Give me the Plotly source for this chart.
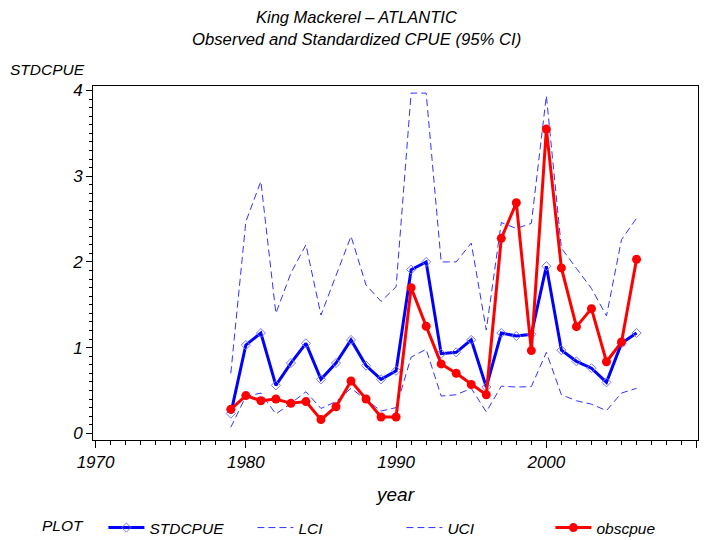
import plotly.graph_objects as go

# King mackerel, Atlantic: standardized CPUE with 95% CI and observed CPUE
years = list(range(1979, 2007))

stdcpue = [0.23, 1.03, 1.17, 0.56, 0.82, 1.05, 0.63, 0.82, 1.09, 0.79, 0.63, 0.73,
           1.91, 2.00, 0.93, 0.945, 1.09, 0.54, 1.17, 1.135, 1.155, 1.95, 0.97,
           0.84, 0.76, 0.595, 1.05, 1.17]

lci = [0.07, 0.43, 0.47, 0.225, 0.35, 0.485, 0.29, 0.37, 0.525, 0.39, 0.26, 0.30,
       0.89, 0.98, 0.435, 0.45, 0.525, 0.25, 0.55, 0.54, 0.545, 0.945, 0.45,
       0.38, 0.34, 0.265, 0.47, 0.525]

uci = [0.70, 2.47, 2.94, 1.40, 1.87, 2.20, 1.38, 1.83, 2.30, 1.73, 1.54, 1.71,
       3.97, 3.97, 2.00, 2.00, 2.22, 1.205, 2.46, 2.39, 2.45, 3.94, 2.16,
       1.925, 1.69, 1.37, 2.26, 2.51]

obscpue = [0.28, 0.44, 0.38, 0.40, 0.35, 0.37, 0.16, 0.31, 0.61, 0.40, 0.19, 0.19,
           1.70, 1.25, 0.81, 0.70, 0.57, 0.45, 2.275, 2.69, 0.965, 3.55, 1.93,
           1.245, 1.455, 0.835, 1.065, 2.03]

x_ticks = [1970, 1980, 1990, 2000, 2010]
y_ticks = [0, 1, 2, 3, 4]

FONT = "Liberation Sans Narrow, Liberation Sans, Arial, sans-serif"

fig = go.Figure()

fig.add_trace(go.Scatter(
    x=years, y=stdcpue, name="<i>STDCPUE</i>", mode="lines+markers",
    line=dict(color="#0000ff", width=3),
    marker=dict(symbol="diamond-open", size=7, color="#7777ff",
                line=dict(width=1, color="#7777ff")),
))
fig.add_trace(go.Scatter(
    x=years, y=lci, name="<i>LCI</i>", mode="lines",
    line=dict(color="#3333ff", width=1, dash="7px,4px"),
))
fig.add_trace(go.Scatter(
    x=years, y=uci, name="<i>UCI</i>", mode="lines",
    line=dict(color="#3333ff", width=1, dash="7px,4px"),
))
fig.add_trace(go.Scatter(
    x=years, y=obscpue, name="<i>obscpue</i>", mode="lines+markers",
    line=dict(color="#ff0000", width=3),
    marker=dict(symbol="circle", size=9, color="#ff0000"),
))

plot_h = 540 - 86 - 100

fig.update_layout(
    width=713, height=540,
    margin=dict(l=93, r=15, t=86, b=100, autoexpand=False),
    paper_bgcolor="white", plot_bgcolor="white",
    font=dict(family=FONT, size=15.5, color="black"),
    showlegend=True,
    legend=dict(
        orientation="h", xref="container", yref="container",
        x=40 / 713, xanchor="left", y=1 - 511 / 540, yanchor="top",
        title=dict(text="<i>PLOT</i>   ", side="left",
                   font=dict(family=FONT, size=15.5)),
        entrywidth=98, entrywidthmode="pixels",
        font=dict(family=FONT, size=15.5),
        itemwidth=36,
    ),
    xaxis=dict(
        range=[1969.83, 2010.09], tickvals=x_ticks,
        ticktext=[f"<i>{v}</i>" for v in x_ticks],
        ticks="outside", ticklen=7, tickcolor="black", tickwidth=1,
        minor=dict(dtick=1, ticks="outside", ticklen=4, tickcolor="black"),
        showline=True, linecolor="black", linewidth=1, mirror=True,
        showgrid=False, zeroline=False,
        title=dict(text="<i>year</i>", standoff=16),
        tickfont=dict(family=FONT, size=17),
    ),
    yaxis=dict(
        range=[-0.078, 4.053], tickvals=y_ticks,
        ticktext=[f"<i>{v}</i>" for v in y_ticks],
        ticks="outside", ticklen=6, tickcolor="black", tickwidth=1,
        minor=dict(dtick=0.1, ticks="outside", ticklen=3, tickcolor="black"),
        showline=True, linecolor="black", linewidth=1, mirror=True,
        showgrid=False, zeroline=False,
        tickfont=dict(family=FONT, size=17),
    ),
    annotations=[
        dict(text="<i>King Mackerel \u2013 ATLANTIC</i>", xref="paper", yref="paper",
             x=0.4355, y=1 + (86 - 17) / plot_h, xanchor="center", yanchor="middle",
             showarrow=False, font=dict(family=FONT, size=16.5)),
        dict(text="<i>Observed and Standardized CPUE (95% CI)</i>", xref="paper", yref="paper",
             x=0.4355, y=1 + (86 - 40) / plot_h, xanchor="center", yanchor="middle",
             showarrow=False, font=dict(family=FONT, size=16.7)),
        dict(text="<i>STDCPUE</i>", xref="paper", yref="paper",
             x=-0.14, y=1 + (86 - 70) / plot_h, xanchor="left", yanchor="middle",
             showarrow=False, font=dict(family=FONT, size=15.5)),
    ],
)

fig.write_html("out.html")
